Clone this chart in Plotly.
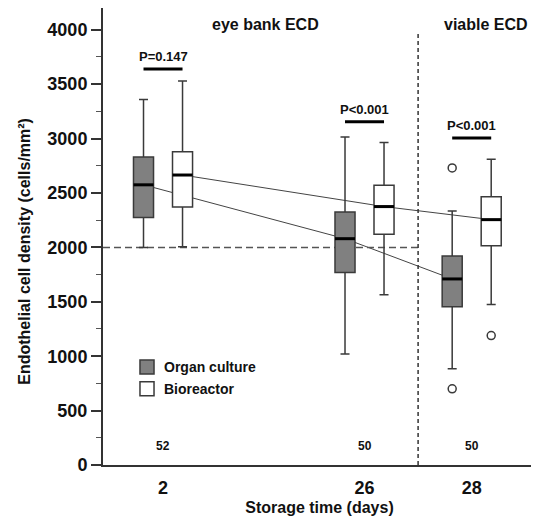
import plotly.graph_objects as go

# ---- data ----
days = ["2", "26", "28"]
group_pos = [0.0, 1.88, 2.88]          # horizontal slot of each storage-time group
n_counts = [52, 50, 50]

oc_q1 = [2275, 1770, 1455]
oc_median = [2575, 2080, 1710]
oc_q3 = [2830, 2325, 1920]
oc_low = [2000, 1020, 885]
oc_high = [3360, 3015, 2335]
oc_outliers_day28 = [2730, 700]

br_q1 = [2370, 2120, 2015]
br_median = [2665, 2375, 2255]
br_q3 = [2880, 2570, 2465]
br_low = [2005, 1565, 1475]
br_high = [3530, 2965, 2810]
br_outliers_day28 = [1190]

p_labels = ["P=0.147", "P<0.001", "P<0.001"]
p_bar_y = [3640, 3155, 3005]

threshold = 2000
divider_pos = 2.38

# ---- styling ----
FONT = "Arial, Liberation Sans, Helvetica, sans-serif"
off = 0.182
bw = 0.187
line_c = "#3a3a3a"
oc_fill = "#808080"
XMIN, XMAX = -0.56, 3.48

oc_x = [p - off for p in group_pos]
br_x = [p + off for p in group_pos]

fig = go.Figure()

fig.add_trace(go.Box(
    name="Organ culture", x=oc_x, q1=oc_q1, median=oc_median, q3=oc_q3,
    lowerfence=oc_low, upperfence=oc_high, width=bw, whiskerwidth=0.45,
    fillcolor=oc_fill, line=dict(color=line_c, width=1.5), boxpoints=False, showlegend=False,
))
fig.add_trace(go.Box(
    name="Bioreactor", x=br_x, q1=br_q1, median=br_median, q3=br_q3,
    lowerfence=br_low, upperfence=br_high, width=bw, whiskerwidth=0.45,
    fillcolor="white", line=dict(color=line_c, width=1.5), boxpoints=False, showlegend=False,
))

# thick median bars
for xs, meds in ((oc_x, oc_median), (br_x, br_median)):
    mx, my = [], []
    for x, m in zip(xs, meds):
        mx += [x - bw / 2, x + bw / 2, None]
        my += [m, m, None]
    fig.add_trace(go.Scatter(x=mx, y=my, mode="lines", line=dict(color="black", width=3),
                             showlegend=False, hoverinfo="skip"))

# outliers
fig.add_trace(go.Scatter(x=[oc_x[2]] * len(oc_outliers_day28), y=oc_outliers_day28, mode="markers",
                         marker=dict(symbol="circle-open", size=8, color=line_c, line=dict(width=1.5)),
                         showlegend=False))
fig.add_trace(go.Scatter(x=[br_x[2]] * len(br_outliers_day28), y=br_outliers_day28, mode="markers",
                         marker=dict(symbol="circle-open", size=8, color=line_c, line=dict(width=1.5)),
                         showlegend=False))

shapes = []
# connecting median lines (behind boxes)
for xs, meds in ((oc_x, oc_median), (br_x, br_median)):
    for i in range(len(xs) - 1):
        shapes.append(dict(type="line", xref="x", yref="y", x0=xs[i], y0=meds[i], x1=xs[i + 1], y1=meds[i + 1],
                           line=dict(color="#444", width=1), layer="below"))
# threshold dashed line
shapes.append(dict(type="line", xref="x", yref="y", x0=XMIN, x1=divider_pos, y0=threshold, y1=threshold,
                   line=dict(color="#555", width=1.5, dash="7px,4px"), layer="below"))
# divider
shapes.append(dict(type="line", xref="x", yref="y", x0=divider_pos, x1=divider_pos, y0=0, y1=3975,
                   line=dict(color="#333", width=1.5, dash="4px,3px"), layer="below"))
# p-value bars
for i in range(3):
    shapes.append(dict(type="line", xref="x", yref="y", x0=oc_x[i], x1=br_x[i], y0=p_bar_y[i], y1=p_bar_y[i],
                       line=dict(color="black", width=3)))

# legend (drawn manually)
legend_items = [("Organ culture", oc_fill, 900), ("Bioreactor", "white", 700)]
for name, fill, yc in legend_items:
    shapes.append(dict(type="rect", xref="x", yref="y", x0=-0.215, x1=-0.084, y0=yc - 64, y1=yc + 64,
                       fillcolor=fill, line=dict(color=line_c, width=1.5)))

annotations = []
for name, fill, yc in legend_items:
    annotations.append(dict(x=-0.01, y=yc, xref="x", yref="y", text=f"<b>{name}</b>", showarrow=False,
                            xanchor="left", font=dict(family=FONT, size=14, color="#111")))
for i in range(3):
    annotations.append(dict(x=group_pos[i], y=p_bar_y[i], xref="x", yref="y", text=f"<b>{p_labels[i]}</b>",
                            showarrow=False, yanchor="bottom", yshift=3, font=dict(family=FONT, size=13, color="#111")))
    annotations.append(dict(x=group_pos[i], y=175, xref="x", yref="y", text=f"<b>{n_counts[i]}</b>",
                            showarrow=False, font=dict(family=FONT, size=12, color="#111")))
annotations.append(dict(x=0.96, y=4050, xref="x", yref="y", text="<b>eye bank ECD</b>", showarrow=False,
                        font=dict(family=FONT, size=16, color="#111")))
annotations.append(dict(x=3.01, y=4050, xref="x", yref="y", text="<b>viable ECD</b>", showarrow=False,
                        font=dict(family=FONT, size=16, color="#111")))
# y-axis title (sits slightly below the axis centre in the original)
annotations.append(dict(x=-0.18, y=1960, xref="paper", yref="y", text="<b>Endothelial cell density (cells/mm²)</b>",
                        textangle=-90, showarrow=False, xanchor="center", yanchor="middle",
                        font=dict(family=FONT, size=16, color="#111")))

# page body has an 8px margin, so the figure is sized/margined to compensate
fig.update_layout(
    width=531, height=512,
    margin=dict(l=95, r=3, t=0, b=55),
    paper_bgcolor="white", plot_bgcolor="white",
    boxmode="overlay",
    shapes=shapes, annotations=annotations,
    font=dict(family=FONT, color="#111"),
    showlegend=False,
)
fig.update_xaxes(
    range=[XMIN, XMAX], tickvals=group_pos, ticktext=days, showline=True, linecolor="#333", linewidth=2,
    ticks="", showgrid=False, zeroline=False, automargin=False, ticklabelstandoff=5,
    tickfont=dict(family=FONT, size=18, color="#111", weight="bold"),
    title=dict(text="<b>Storage time (days)</b>", font=dict(family=FONT, size=16, color="#111"), standoff=5),
)
fig.update_yaxes(
    range=[0, 4200], tickvals=[0, 500, 1000, 1500, 2000, 2500, 3000, 3500, 4000],
    showline=True, linecolor="#333", linewidth=2, ticks="outside", ticklen=10, tickwidth=1.5, tickcolor="#333",
    minor=dict(dtick=250, ticks="outside", ticklen=5, tickwidth=1.2, tickcolor="#555", showgrid=False),
    showgrid=False, zeroline=False, automargin=False,
    tickfont=dict(family=FONT, size=18, color="#111", weight="bold"),
)

fig.write_html("out.html")
